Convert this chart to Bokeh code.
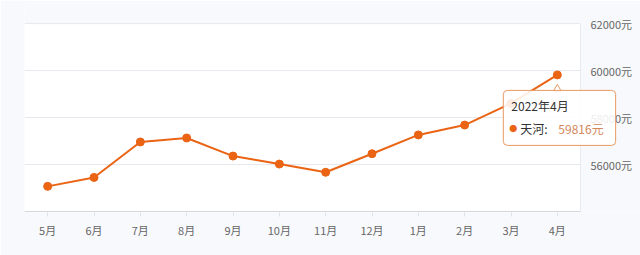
from bokeh.plotting import figure
from bokeh.models import Range1d, FixedTicker, Label, BoxAnnotation
from bokeh.embed import file_html
from bokeh.resources import INLINE

# ---- data ----
months = ["5月", "6月", "7月", "8月", "9月", "10月", "11月", "12月", "1月", "2月", "3月", "4月"]
prices = [55070, 55450, 56960, 57130, 56360, 56020, 55670, 56460, 57260, 57680, 58600, 59816]
y_ticks = [56000, 58000, 60000, 62000]
y_min, y_max = 54000, 62000
series_name = "天河"
tooltip_title = "2022年4月"
unit = "元"

FONT = "Noto Sans CJK SC"
ORANGE = "#ea6414"

n = len(months)
xs = [i + 0.5 for i in range(n)]

# layout: plot area 24..580 px wide, 187 px tall; label gutters around it
plot_px = 556.0
gutter_px = 60.0
px_per_unit = plot_px / n
upp = (y_max - y_min) / 187.0  # data units per pixel (vertical)

p = figure(width=640, height=255,
           x_range=Range1d(0, n + gutter_px / px_per_unit),
           y_range=Range1d(y_min - upp, y_max + 20 * upp),
           output_backend="svg", toolbar_location=None, y_axis_location=None,
           min_border_left=24, min_border_right=0, min_border_top=3, min_border_bottom=43)

p.border_fill_color = "#f8f9fc"
p.background_fill_color = "#f8f9fc"
p.outline_line_color = None
p.grid.visible = False

p.add_layout(BoxAnnotation(left=0, right=n, bottom=y_min, top=y_max,
                           fill_color="#ffffff", fill_alpha=1, line_color=None, level="underlay"))

# x axis
xa = p.xaxis[0]
xa.ticker = FixedTicker(ticks=xs)
xa.major_label_overrides = {x: m for x, m in zip(xs, months)}
xa.minor_tick_line_color = None
xa.major_tick_out = 4
xa.major_tick_in = 0
xa.major_tick_line_color = "#e0e3ea"
xa.axis_line_color = None
xa.major_label_standoff = 5
xa.major_label_text_font = FONT
xa.major_label_text_font_size = "11px"
xa.major_label_text_color = "#666666"

# grid lines, axis lines
p.segment(x0=[0] * len(y_ticks), x1=[n] * len(y_ticks), y0=y_ticks, y1=y_ticks,
          line_color="#e6e8ee", line_width=1)
p.segment(x0=[0], x1=[n], y0=[y_min], y1=[y_min], line_color="#d4d7de", line_width=1)
p.segment(x0=[n], x1=[n], y0=[y_min], y1=[y_max], line_color="#e8eaf0", line_width=1)

# right-side value labels
for t in y_ticks:
    p.add_layout(Label(x=n, y=t, x_offset=10, anchor="center_left", text=f"{t}{unit}",
                       text_font=FONT, text_font_size="11px", text_color="#666666"))

p.line(xs, prices, line_color=ORANGE, line_width=2)
p.scatter(xs, prices, size=8, fill_color=ORANGE, line_color=ORANGE)

# tooltip for the last point
lx, ly = xs[-1], prices[-1]
p.scatter([lx], [ly - 14 * upp], marker="triangle", size=8,
          fill_color="white", line_color="#e89a62")
box = Label(x=lx, y=ly, x_offset=-54, y_offset=-15.5, anchor="top_left",
            text=tooltip_title, text_font=FONT, text_font_size="12px", text_color="#333333",
            padding=dict(left=8, right=47, top=7, bottom=31),
            background_fill_color="white", background_fill_alpha=0.88,
            border_line_color="#e89a62", border_line_width=1, border_radius=4)
p.add_layout(box)
dot = Label(x=lx, y=ly, x_offset=-44, y_offset=-54, anchor="center",
            text="●", text_font=FONT, text_font_size="8px", text_color=ORANGE)
p.add_layout(dot)
name = Label(x=lx, y=ly, x_offset=-37, y_offset=-54, anchor="center_left",
             text=f"{series_name}:", text_font=FONT, text_font_size="12px", text_color="#333333")
p.add_layout(name)
val = Label(x=lx, y=ly, x_offset=1, y_offset=-54, anchor="center_left",
            text=f"{prices[-1]}{unit}", text_font=FONT, text_font_size="12px", text_color="#d4875c")
p.add_layout(val)

open("out.html", "w").write(file_html(p, INLINE))
